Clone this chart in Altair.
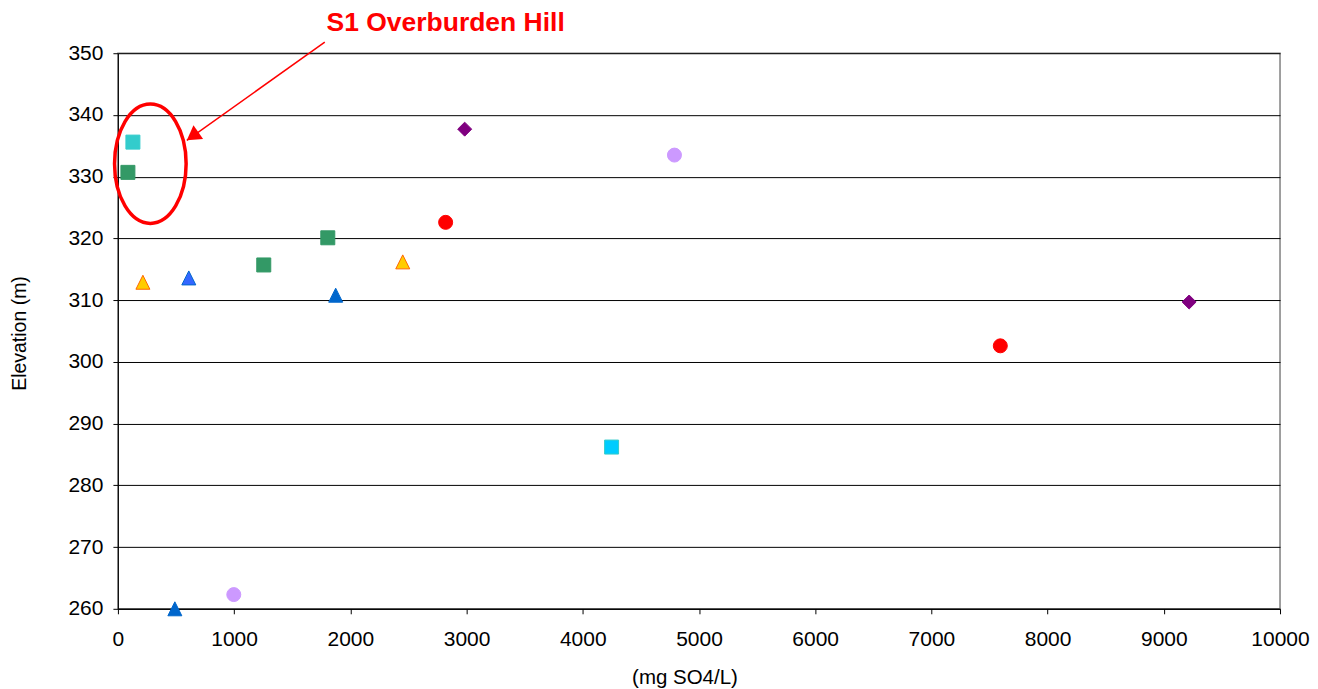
import altair as alt
import pandas as pd

# ---- data ----
series_names = ["Series 1", "Series 2", "Series 3", "Series 4", "Series 5",
                "Series 6", "Series 7", "Series 8", "Series 9"]
fill_colors = ["#33CCCC", "#339966", "#FFCC00", "#3366FF", "#0066CC",
               "#FF0000", "#800080", "#CC99FF", "#00CCFF"]
stroke_colors = ["#33CCCC", "#339966", "#FF6600", "#0066CC", "#0066CC",
                 "#FF0000", "#800080", "#CC99FF", "#33CCCC"]
stroke_widths = [1, 1, 2, 1.2, 1, 1, 1, 1, 1]
TRI = "M 0 -1 L 1 1 L -1 1 Z"
shapes = ["square", "square", TRI, TRI, TRI,
          "circle", "diamond", "circle", "square"]
sizes = [196, 196, 180, 196, 196, 160, 190, 160, 196]

point_series = ["Series 1", "Series 2", "Series 2", "Series 2", "Series 3", "Series 3",
                "Series 4", "Series 5", "Series 5", "Series 6", "Series 6",
                "Series 7", "Series 7", "Series 8", "Series 8", "Series 9"]
so4 = [129, 86, 1255, 1806, 215, 2451,
       610, 1874, 490, 2820, 7593,
       2984, 9218, 4789, 997, 4248]
elevation = [335.6, 330.7, 315.7, 320.1, 312.9, 316.2,
             313.6, 310.8, 260.0, 322.6, 302.6,
             337.7, 309.7, 333.5, 262.3, 286.2]

# annotation (in data coordinates)
label_text = ["S1 Overburden Hill"]
label_x = [2820]
label_y = [353.6]
arrow_x = [1780]
arrow_y = [351.8]
arrow_x2 = [593]
arrow_y2 = [335.9]
ellipse_x = [279]
ellipse_y = [332.1]

FONT = "Arial, Liberation Sans, sans-serif"

df = pd.DataFrame({"series": point_series, "so4": so4, "elev": elevation})

xscale = alt.Scale(domain=[0, 10000], nice=False)
yscale = alt.Scale(domain=[260, 350], nice=False)

points = alt.Chart(df).mark_point(filled=True, opacity=1).encode(
    x=alt.X("so4:Q", scale=xscale,
            axis=alt.Axis(title="(mg SO4/L)", values=list(range(0, 10001, 1000)),
                          format="d", grid=False, tickSize=5, labelPadding=15,
                          labelFlush=False, labelOverlap=False,
                          titleX=567, titleY=69, titleBaseline="middle",
                          titleAlign="center", titleFontSize=20.5)),
    y=alt.Y("elev:Q", scale=yscale,
            axis=alt.Axis(title="Elevation (m)", values=list(range(260, 351, 10)),
                          format="d", grid=True, tickSize=5, labelPadding=10,
                          labelFlush=False, labelOverlap=False,
                          titleX=-98, titleY=280, titleAngle=-90,
                          titleBaseline="middle", titleAlign="center",
                          titleFontSize=19.5)),
    fill=alt.Fill("series:N", scale=alt.Scale(domain=series_names, range=fill_colors), legend=None),
    stroke=alt.Stroke("series:N", scale=alt.Scale(domain=series_names, range=stroke_colors), legend=None),
    strokeWidth=alt.StrokeWidth("series:N", scale=alt.Scale(domain=series_names, range=stroke_widths), legend=None),
    shape=alt.Shape("series:N", scale=alt.Scale(domain=series_names, range=shapes), legend=None),
    size=alt.Size("series:N", scale=alt.Scale(domain=series_names, range=sizes), legend=None),
)

ann_text = alt.Chart(pd.DataFrame({"t": label_text, "x": label_x, "y": label_y})).mark_text(
    font=FONT, fontSize=26.5, fontWeight="bold", color="#FF0000",
    align="center", baseline="alphabetic"
).encode(x=alt.X("x:Q", scale=xscale), y=alt.Y("y:Q", scale=yscale), text="t:N")

arrow_line = alt.Chart(pd.DataFrame({"x": arrow_x, "y": arrow_y, "x2": arrow_x2, "y2": arrow_y2})).mark_rule(
    color="#FF0000", strokeWidth=1.5
).encode(x=alt.X("x:Q", scale=xscale), y=alt.Y("y:Q", scale=yscale), x2="x2:Q", y2="y2:Q")

arrow_head = alt.Chart(pd.DataFrame({"x": arrow_x2, "y": arrow_y2})).mark_point(
    shape="M 0 0 L -0.6 1 L 0.6 1 Z", size=784, angle=235, filled=True,
    color="#FF0000", opacity=1, strokeWidth=0
).encode(x=alt.X("x:Q", scale=xscale), y=alt.Y("y:Q", scale=yscale))

ellipse = alt.Chart(pd.DataFrame({"x": ellipse_x, "y": ellipse_y})).mark_point(
    shape="M 0 -1 A 0.6 1 0 1 1 0 1 A 0.6 1 0 1 1 0 -1 Z", size=14256,
    filled=False, color="#FF0000", strokeWidth=3.5, opacity=1
).encode(x=alt.X("x:Q", scale=xscale), y=alt.Y("y:Q", scale=yscale))

chart = alt.layer(points, ellipse, arrow_line, arrow_head, ann_text).properties(
    width=1163, height=556,
    autosize=alt.AutoSizeParams(type="none"),
    padding={"left": 110, "top": 45, "right": 30, "bottom": 80},
    background="white",
).configure_view(
    stroke="#808080", strokeWidth=1.5
).configure_axis(
    labelFont=FONT, labelFontSize=21, labelColor="#000000",
    titleFont=FONT, titleColor="#000000", titleFontWeight="normal",
    domainColor="#000000", domainWidth=1, tickColor="#000000", tickWidth=1,
    gridColor="#000000", gridWidth=1, gridOpacity=1,
)

chart.save("out.html", embed_options={"renderer": "svg", "actions": False})
